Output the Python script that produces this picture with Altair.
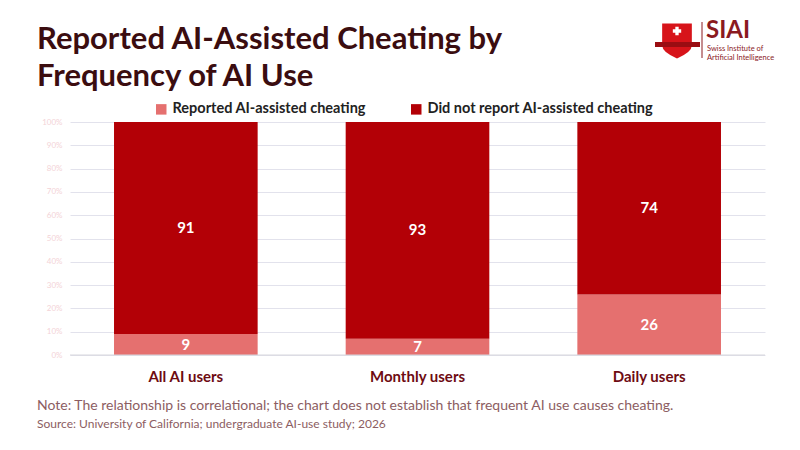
import altair as alt
import pandas as pd

groups = ["All AI users", "Monthly users", "Daily users"]
series = ["Reported AI-assisted cheating", "Did not report AI-assisted cheating"]
reported = [9, 7, 26]
not_reported = [91, 93, 74]
colors = ["#e5706f", "#b30006"]
y_ticks = [0, 10, 20, 30, 40, 50, 60, 70, 80, 90, 100]

title_lines = ["Reported AI-Assisted Cheating by", "Frequency of AI Use"]
note = "Note: The relationship is correlational; the chart does not establish that frequent AI use causes cheating."
source = "Source: University of California; undergraduate AI-use study; 2026"

rows = []
for g, r, n in zip(groups, reported, not_reported):
    rows.append({"group": g, "series": series[0], "value": r, "ord": 0})
    rows.append({"group": g, "series": series[1], "value": n, "ord": 1})
df = pd.DataFrame(rows)

FONT = "Lato"
W, H = 695, 233

base = alt.Chart(df).transform_stack(
    stack="value", groupby=["group"], as_=["y0", "y1"], sort=[alt.SortField("ord")]
).transform_calculate(mid="(datum.y0 + datum.y1) / 2")

y_axis = alt.Axis(values=y_ticks, labelExpr="datum.value + '%'", labelOverlap=False,
                  labelFont=FONT, labelFontSize=8, labelColor="#f3d3d7",
                  ticks=False, domain=False, gridColor="#e2e2ec", labelPadding=8,
                  gridWidth=1)
x_axis = alt.Axis(labelAngle=0, labelFont=FONT, labelFontSize=15, labelFontWeight="bold",
                  labelColor="#6e0b12", labelPadding=14, ticks=False, domain=False, grid=False)
x_scale = alt.Scale(paddingInner=0.38, paddingOuter=0.19)
y_scale = alt.Scale(domain=[0, 100])

bars = base.mark_bar().encode(
    x=alt.X("group:N", sort=groups, title=None, scale=x_scale, axis=x_axis),
    y=alt.Y("y0:Q", title=None, scale=y_scale, axis=y_axis),
    y2="y1:Q",
    color=alt.Color("series:N", sort=series,
                    scale=alt.Scale(domain=series, range=colors),
                    legend=alt.Legend(title=None, orient="none", legendX=84, legendY=-20,
                                      direction="horizontal", symbolType="square",
                                      symbolSize=110, symbolStrokeWidth=0,
                                      labelFont=FONT, labelFontSize=14.5, labelFontWeight="bold",
                                      labelColor="#222222", columnPadding=43, labelLimit=400)),
)

labels = base.mark_text(font=FONT, fontSize=15, fontWeight="bold", color="white").encode(
    x=alt.X("group:N", sort=groups, title=None, scale=x_scale, axis=x_axis),
    y=alt.Y("mid:Q", title=None, scale=y_scale, axis=y_axis),
    text="value:Q",
)

def txt(s, x, y, size, color, weight="normal", font=FONT):
    return alt.Chart(pd.DataFrame({"t": [s]})).mark_text(
        align="left", baseline="alphabetic", font=font, fontSize=size,
        fontWeight=weight, color=color
    ).encode(x=alt.value(x), y=alt.value(y), text="t:N")

t1 = txt(title_lines[0], -33, -73, 31, "#3b0d10", "bold")
t2 = txt(title_lines[1], -33, -36, 31, "#3b0d10", "bold")
n1 = txt(note, -33, 288, 14, "#8c5d62")
n2 = txt(source, -33, 306, 12, "#8c5d62")

# logo
shield_path = "M -0.85 -1 L 0.85 -1 L 0.85 0.25 Q 0.85 0.65 0 1 Q -0.85 0.65 -0.85 0.25 Z"
one = pd.DataFrame({"a": [1]})
shield = alt.Chart(one).mark_point(
    shape=shield_path, filled=True, color="#d7141a", size=1220, opacity=1
).encode(x=alt.value(607), y=alt.value(-81))
ribbon = alt.Chart(one).mark_rect(color="#9a0d12").encode(
    x=alt.value(585), x2=alt.value(630), y=alt.value(-80), y2=alt.value(-75))
cross = alt.Chart(one).mark_point(
    shape="cross", filled=True, color="white", size=70, opacity=1
).encode(x=alt.value(607), y=alt.value(-91))
vline = alt.Chart(one).mark_rule(color="#8b1a1f", strokeWidth=1).encode(
    x=alt.value(632), y=alt.value(-100), y2=alt.value(-64))
siai = txt("SIAI", 636, -84, 24, "#8b1a1f", "bold")
s1 = txt("Swiss Institute of", 637, -71, 7.5, "#8b1a1f")
s2 = txt("Artificial Intelligence", 637, -62, 7.5, "#8b1a1f")

# darker zero baseline
zero = alt.Chart(one).mark_rule(color="#d6d6dc", strokeWidth=1).encode(
    x=alt.value(0), x2=alt.value(W), y=alt.value(H))

chart = alt.layer(bars, zero, labels, t1, t2, n1, n2, shield, ribbon, cross, vline, siai, s1, s2).properties(
    width=W, height=H,
    autosize=alt.AutoSizeParams(type="none"),
    padding={"left": 62, "top": 114, "right": 27, "bottom": 87},
).configure(background="white").configure_view(strokeOpacity=0, strokeWidth=0)

chart.save("out.html", embed_options={"renderer": "svg", "actions": False})
